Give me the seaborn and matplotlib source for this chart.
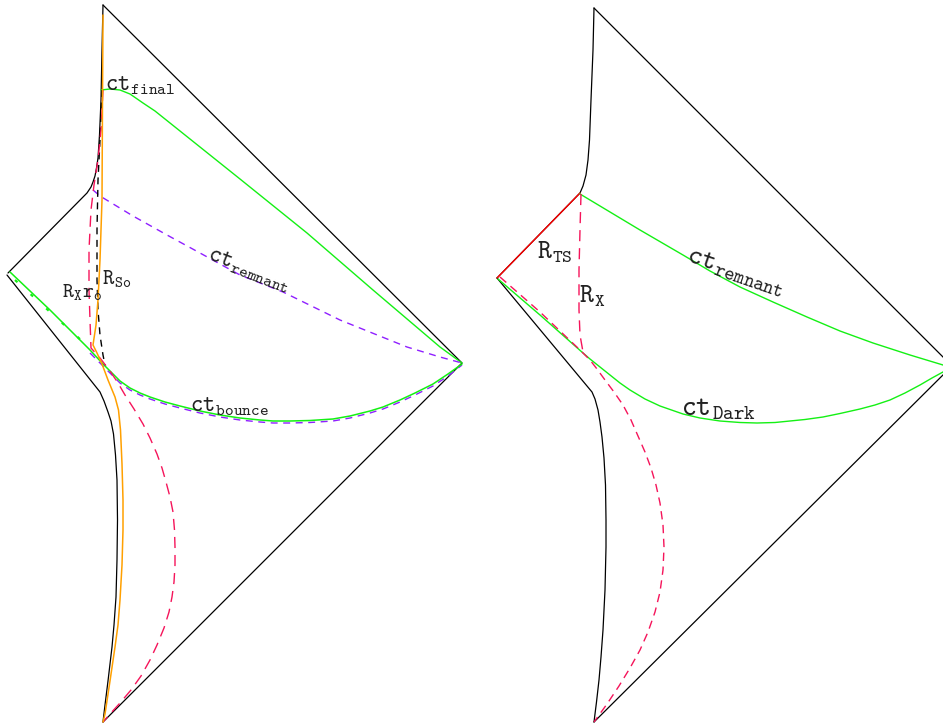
import numpy as np
import matplotlib
matplotlib.use("Agg")
import matplotlib.pyplot as plt
import seaborn as sns

sns.set_theme(style="white")
plt.rcParams['mathtext.fontset'] = 'cm'

# ---------------- data (pixel-space coordinates) ----------------
# LEFT diagram
L_edge_x = [103, 462, 103]
L_edge_y = [5, 363, 722]
L_upper_x = [103, 102, 101, 99.5, 98, 96.5, 95, 93, 91, 87, 8]
L_upper_y = [5, 50, 100, 135, 158, 168, 176, 182, 187, 193, 273]
L_lower_x = [7, 100, 104, 108, 111, 113.5, 115.5, 117, 117.5, 117, 116, 114, 112, 108, 105, 103]
L_lower_y = [275, 392, 401, 412, 421, 434, 455, 480, 520, 560, 597, 625, 647, 681, 705, 722]

L_orange_x = [103, 102.5, 102, 100, 98, 96, 93, 97, 102, 108, 115, 118.5, 120.5, 122, 123, 123, 122, 120, 118, 115, 110, 105, 103]
L_orange_y = [15, 100, 200, 260, 300, 325, 345, 353, 364, 380, 397, 410, 430, 464, 500, 530, 565, 600, 625, 647, 681, 714, 722]

L_ro_x = [102, 100, 98, 97, 97, 98, 100, 103, 105]
L_ro_y = [90, 140, 180, 230, 280, 310, 335, 355, 365]

L_rx_x = [103, 101, 98, 94, 91, 89, 89, 90, 91, 100, 110, 118, 125, 134, 143, 150, 157, 162, 166, 170, 173,
          174.5, 175, 175, 174, 172, 169, 164, 157, 150, 141, 131, 120, 110, 103]
L_rx_y = [90, 130, 160, 185, 210, 250, 290, 320, 348, 358, 371, 383, 395, 409, 424, 438, 454, 468, 482, 497, 512,
          530, 547, 565, 582, 597, 612, 628, 645, 660, 676, 690, 703, 714, 722]

L_final_x = [101, 110, 120, 130, 143, 155, 170, 190, 240, 307, 373, 440, 462]
L_final_y = [90, 89, 90, 94, 103, 111, 123, 139, 179, 233, 290, 347, 363]

L_remnant_x = [93, 100, 133, 167, 200, 240, 283, 340, 407, 440, 462]
L_remnant_y = [190, 196, 216, 235, 253, 275, 292, 320, 347, 357, 363]

L_bounce_x = [10, 50, 90, 103, 110, 120, 130, 140, 150, 165, 180, 200, 220, 240, 260, 273, 290, 310, 333,
              350, 370, 383, 400, 415, 433, 448, 462]
L_bounce_y = [272, 310, 350, 364, 371, 381, 388, 393, 397, 402, 406, 411, 415, 418, 420, 421, 421, 420.5, 419,
              416, 411, 407, 400, 393, 384, 374, 364]
L_bounce2_x = [90, 103, 110, 120, 130, 140, 150, 165, 180, 200, 220, 240, 260, 273, 290, 310, 333,
               350, 370, 383, 400, 415, 433, 448, 462]
L_bounce2_y = [353, 366, 373, 383, 390, 395, 399, 404, 408, 413, 417, 420, 422, 423, 423, 422.5, 421,
               418, 413, 409, 402, 395, 386, 376, 365]
L_hash_x = [15, 82]
L_hash_y = [280, 341]

# RIGHT diagram
R_edge_x = [594, 952, 594]
R_edge_y = [8, 366, 722]
R_upper_x = [594, 593, 591, 589.5, 588, 586, 583, 580, 497]
R_upper_y = [8, 50, 100, 140, 160, 175, 186, 193, 278]
R_lower_x = [497, 592, 595, 598, 600, 602, 604, 605.5, 606, 606, 605, 603, 601, 599, 596.5, 594]
R_lower_y = [278, 392, 399, 410, 422, 437, 458, 485, 520, 547, 590, 630, 657, 680, 702, 722]

R_ts_x = [497, 580]
R_ts_y = [278, 193]

R_rx1_x = [581, 580, 579, 579, 580, 583]
R_rx1_y = [194, 230, 270, 310, 335, 352]
R_rx2_x = [500, 540, 580, 590, 597, 605, 614, 623, 631, 638, 645, 651, 656, 660, 663, 664, 663, 660,
           655, 648, 640, 630, 619, 607, 594]
R_rx2_y = [277, 312, 350, 360, 369, 380, 392, 405, 420, 436, 452, 468, 485, 503, 525, 547, 570, 592,
           612, 632, 650, 668, 686, 704, 722]

R_remnant_x = [580, 610, 640, 683, 710, 740, 773, 807, 840, 873, 910, 943, 952]
R_remnant_y = [194, 212, 230, 255, 271, 287, 302, 317, 331, 343, 355, 365, 366]

R_dark_x = [498, 540, 583, 590, 600, 610, 620, 630, 645, 660, 683, 700, 720, 740, 757, 775, 790, 805, 823,
            840, 860, 875, 890, 905, 920, 932, 943, 952]
R_dark_y = [279, 315, 353, 359, 367, 375, 383, 390, 399, 406, 414, 418, 421, 422.5, 423, 422.5, 421, 419.5, 417,
            413.5, 409, 405, 400, 393, 385, 378, 372, 366]

# labels: (text, x, y, size, rotation)
labels = [
    (r'$\mathtt{ct}_{\mathtt{final}}$', 105, 91, 17, 0),
    (r'$\mathtt{ct}_{\mathtt{remnant}}$', 206, 259, 17, -21),
    (r'$\mathtt{R}_{\mathtt{X}}$', 62, 297, 15, 0),
    (r'$\mathtt{r}_{\mathtt{o}}$', 82, 297, 15, 0),
    (r'$\mathtt{R}_{\mathtt{So}}$', 102, 284, 15.5, 0),
    (r'$\mathtt{ct}_{\mathtt{bounce}}$', 190, 412, 17, 0),
    (r'$\mathtt{R}_{\mathtt{TS}}$', 537, 259, 19, 0),
    (r'$\mathtt{R}_{\mathtt{X}}$', 579, 303, 19, 0),
    (r'$\mathtt{ct}_{\mathtt{remnant}}$', 685, 261, 20, -19),
    (r'$\mathtt{ct}_{\mathtt{Dark}}$', 681, 415, 20.5, 0),
]

# ---------------- styles ----------------
BLACK = '#000000'
GREEN = '#14F014'
ORANGE = '#FFA000'
CRIMSON = '#F5145A'
PURPLE = '#8F1FFF'
RED = '#FF0000'

fig = plt.figure(figsize=(9.43, 7.28), dpi=100)
ax = fig.add_axes([0, 0, 1, 1])


def line(x, y, color, lw=1.1, ls='-'):
    sns.lineplot(x=np.asarray(x, float), y=np.asarray(y, float), sort=False,
                 estimator=None, color=color, linewidth=lw, linestyle=ls, ax=ax)


# left diagram
line(L_edge_x, L_edge_y, BLACK, 0.9)
line(L_upper_x, L_upper_y, BLACK, 0.9)
line(L_lower_x, L_lower_y, BLACK, 0.9)
line(L_final_x, L_final_y, GREEN, 1.0)
line(L_remnant_x, L_remnant_y, PURPLE, 1.0, (0, (5, 4)))
line(L_bounce2_x, L_bounce2_y, PURPLE, 1.0, (0, (5, 4)))
line(L_bounce_x, L_bounce_y, GREEN, 1.1)
line(L_hash_x, L_hash_y, GREEN, 1.6, (0, (1.5, 8)))
line(L_ro_x, L_ro_y, BLACK, 1.0, (0, (5, 4)))
line(L_rx_x, L_rx_y, CRIMSON, 1.0, (0, (8, 5)))
line(L_orange_x, L_orange_y, ORANGE, 1.1)

# right diagram
line(R_edge_x, R_edge_y, BLACK, 0.9)
line(R_upper_x, R_upper_y, BLACK, 0.9)
line(R_lower_x, R_lower_y, BLACK, 0.9)
line(R_ts_x, R_ts_y, RED, 1.0)
line(R_remnant_x, R_remnant_y, GREEN, 1.0)
line(R_dark_x, R_dark_y, GREEN, 1.0)
line(R_rx1_x, R_rx1_y, CRIMSON, 1.0, (0, (8, 5)))
line(R_rx2_x, R_rx2_y, CRIMSON, 1.0, (0, (6, 4)))

for txt, x, y, size, rot in labels:
    ax.text(x, y, txt, fontsize=size, rotation=rot, rotation_mode='anchor',
            ha='left', va='baseline', color='#222222')

ax.set_xlim(0, 943)
ax.set_ylim(728, 0)
ax.axis('off')
fig.savefig('out.png', dpi=100)
